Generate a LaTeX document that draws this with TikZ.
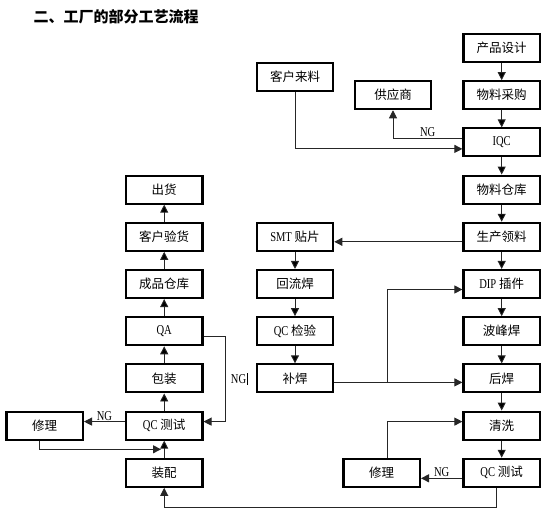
\documentclass[tikz,border=0pt]{standalone}
\usepackage{fontspec}
\setmainfont[FakeStretch=0.78]{Liberation Serif}
\newfontfamily\cjk{Noto Sans CJK SC}
\newcommand{\eng}[1]{{\rmfamily\fontsize{13.5}{14}\selectfont #1}}
\usetikzlibrary{arrows.meta}

\begin{document}
\begin{tikzpicture}[->,>={Triangle[length=8pt,width=8pt]},auto,node distance=47.2pt,
		x=1pt,y=1pt,thick,
		main node/.style={rectangle,draw=black,line width=2.1pt,minimum width=76.5pt,minimum height=28pt,inner sep=0pt,font=\cjk\fontsize{12.5}{14}\selectfont},
		flow/.style={draw=black!85,line width=0.9pt},
		ng label/.style={font=\rmfamily\fontsize{13.5}{14}\selectfont,text=black,inner sep=1pt}]

		\useasboundingbox (0,0) rectangle (550,-517);
		\node[anchor=west,font=\cjk\bfseries\fontsize{15}{18}\selectfont] (title) at (30,-17) {二、工厂的部分工艺流程};

		% right column
		\node[main node] (design) at (501.7,-48) {产品设计};
		\node[main node] (buy) [below of=design] {物料采购};
		\node[main node] (iqc) [below of=buy] {\eng{IQC}};
		\node[main node] (stock) [below of=iqc] {物料仓库};
		\node[main node] (issue) [below of=stock] {生产领料};
		\node[main node] (dip) [below of=issue] {\eng{DIP} 插件};
		\node[main node] (wave) [below of=dip] {波峰焊};
		\node[main node] (post) [below of=wave] {后焊};
		\node[main node] (wash) [below of=post] {清洗};
		\node[main node] (testr) [below of=wash] {\eng{QC} 测试};
		\node[main node] (fixr) [left of=testr, node distance=120pt] {修理};
		\node[main node] (vendor) [left of=buy, node distance=108.7pt] {供应商};

		% middle column
		\node[main node] (custin) at (295,-76.9) {客户来料};
		\node[main node] (smt) [left of=issue, node distance=206.7pt] {\eng{SMT} 贴片};
		\node[main node] (reflow) [below of=smt] {回流焊};
		\node[main node] (qccheck) [below of=reflow] {\eng{QC} 检验};
		\node[main node] (touchup) [below of=qccheck] {补焊};

		% left column
		\node[main node] (ship) [left of=stock, node distance=337.5pt] {出货};
		\node[main node] (accept) [below of=ship] {客户验货};
		\node[main node] (goods) [below of=accept] {成品仓库};
		\node[main node] (qa) [below of=goods] {\eng{QA}};
		\node[main node] (pack) [below of=qa] {包装};
		\node[main node] (testl) [below of=pack] {\eng{QC} 测试};
		\node[main node] (assy) [below of=testl] {装配};
		\node[main node] (fixl) [left of=testl, node distance=119.5pt] {修理};

		\coordinate (split) at (387.3,-382.4);
		\coordinate (merge) at (161,-449.3);

		\path[flow]
		(design) edge (buy)
		(buy) edge (iqc)
		(iqc) edge (stock)
		(stock) edge (issue)
		(issue) edge (dip)
		(dip) edge (wave)
		(wave) edge (post)
		(post) edge (wash)
		(wash) edge (testr)
		(smt) edge (reflow)
		(reflow) edge (qccheck)
		(qccheck) edge (touchup)
		(assy) edge (testl)
		(testl) edge (pack)
		(pack) edge (qa)
		(qa) edge (goods)
		(goods) edge (accept)
		(accept) edge (ship);

		\draw[flow] (custin.south) |- ([yshift=-6.5pt]iqc.west);
		\draw[flow] ([yshift=4pt]iqc.west) -| node[ng label,pos=0.25,above] {NG} (vendor.south);
		\draw[flow] ([yshift=-5pt]issue.west) -- ([yshift=-5pt]smt.east);
		\draw[flow] ([yshift=-4pt]touchup.east) -- ([yshift=-4pt]post.west);
		\draw[flow] (split) |- ([yshift=-5.5pt]dip.west);
		\draw[flow] ([yshift=-5.5pt]qa.east) -- ++(22,0) |- node[ng label,pos=0.25,right=4pt] {NG\hspace{1pt}\rule[-1.6pt]{1.3pt}{11.6pt}} ([yshift=4pt]testl.east);
		\draw[flow] ([yshift=4pt]testl.west) -- node[ng label,above] {NG} ([yshift=4pt]fixl.east);
		\draw[flow] ([xshift=-5pt]fixl.south) |- (merge);
		\draw[flow] ([xshift=6pt]fixr.north) |- ([yshift=4pt]wash.west);
		\draw[flow] ([yshift=-5.5pt]testr.west) -- node[ng label,above] {NG} ([yshift=-5.5pt]fixr.east);
		\draw[flow] ([xshift=-5pt]testr.south) -- ++(0,-19.3) -| (assy.south);
\end{tikzpicture}
\end{document}
